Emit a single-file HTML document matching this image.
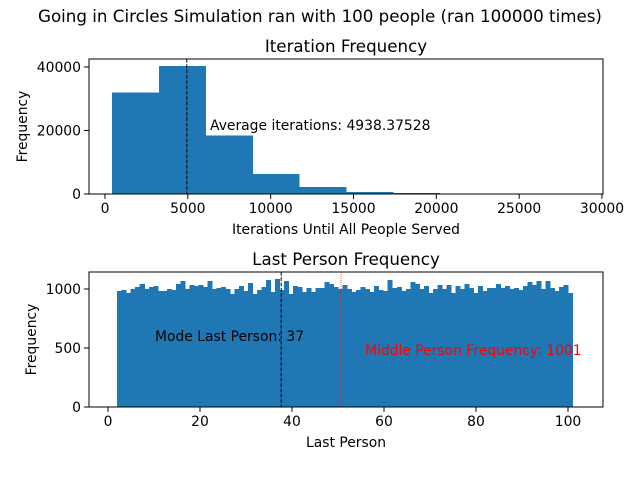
<!DOCTYPE html>
<html><head><meta charset="utf-8"><style>
body{margin:0;background:#fff;font-family:"Liberation Sans","DejaVu Sans",sans-serif}
</style></head><body>
<svg id="c" width="640" height="480" xmlns="http://www.w3.org/2000/svg" font-family="DejaVu Sans, Liberation Sans, sans-serif">
<rect width="640" height="480" fill="#fff"/>
<text x="320" y="22" font-size="16.7" text-anchor="middle">Going in Circles Simulation ran with 100 people (ran 100000 times)</text>
<g id="top"></g><g id="bot"></g>
</svg>
<script>
const iterBinStart = 422, iterBinWidth = 2825;
const iterCounts = [32000, 40300, 18400, 6300, 2200, 700, 250, 80, 20, 5];
const iterXTicks = [0, 5000, 10000, 15000, 20000, 25000, 30000];
const iterYTicks = [0, 20000, 40000];
const iterMean = 4938.37528;
const personMin = 2, personMax = 101;
const personCounts = [983,992,966,1000,1017,1043,1000,1017,1026,983,983,1000,992,1043,1068,1000,1034,1026,1034,1017,1068,1000,1009,1017,1000,958,1000,1026,983,1051,958,992,1017,1077,975,1085,992,1068,958,1026,1017,975,1009,975,1009,1009,1060,1043,1017,
1000,1034,1000,975,992,1017,1000,975,1026,992,983,1077,1009,1017,983,1000,1060,1043,1000,1026,966,1000,1034,1000,1034,966,1026,1000,1043,1009,966,1026,983,1009,1009,1043,1009,1026,1000,1009,992,1026,1060,1034,1068,1000,1068,1009,983,1017,1034,966];
const personXTicks = [0, 20, 40, 60, 80, 100];
const personYTicks = [0, 500, 1000];
const modePerson = 37, middlePerson = 50;

const NS = "http://www.w3.org/2000/svg";
function el(parent, tag, attrs, text) {
  const e = document.createElementNS(NS, tag);
  for (const k in attrs) e.setAttribute(k, attrs[k]);
  if (text !== undefined) e.textContent = text;
  parent.appendChild(e); return e;
}
function axes(g, L, T, R, B, xs, ys, xt, yt, title, xl, yl, nm, ylx) {
  for (const t of xt) {
    const x = xs(t);
    const l = el(g, "line", {x1:x, x2:x, y1:B, y2:B+4.9, stroke:"#000"});
    
    
    const tx = el(g, "text", {x:x, y:B+19, "font-size":13.9, "text-anchor":"middle"}, t);
    
    
  }
  for (const t of yt) {
    const y = ys(t);
    const l = el(g, "line", {x1:L-4.9, x2:L, y1:y, y2:y, stroke:"#000"});
    
    
    const tx = el(g, "text", {x:L-8, y:y+5, "font-size":13.9, "text-anchor":"end"}, t);
    
    
  }
  const r = el(g, "rect", {x:L, y:T, width:R-L, height:B-T, fill:"none", stroke:"#000", "stroke-width":1});
  
  
  const ti = el(g, "text", {x:(L+R)/2, y:T-7, "font-size":16.7, "text-anchor":"middle"}, title);
  
  
  const xlab = el(g, "text", {x:(L+R)/2, y:B+40, "font-size":13.9, "text-anchor":"middle"}, xl);
  
  
  const yy = (T+B)/2;
  const ylab = el(g, "text", {x:ylx, y:yy, "font-size":13.9, "text-anchor":"middle", transform:`rotate(-90 ${ylx} ${yy})`}, yl);
  
  
}
// top
{
  const g = document.getElementById("top");
  const L=89,R=603,T=59,B=194;
  const xs = v => 105 + v*(602-105)/30000;
  const ys = v => 194 - v*(194-67)/40000;
  iterCounts.forEach((c,i) => {
    const x0 = xs(iterBinStart + i*iterBinWidth), x1 = xs(iterBinStart + (i+1)*iterBinWidth);
    const r = el(g, "rect", {x:x0, y:ys(c), width:x1-x0+0.5, height:B-ys(c), fill:"#1f77b4", "shape-rendering":"crispEdges"});
    
    
  });
  const ml = el(g, "line", {x1:xs(iterMean), x2:xs(iterMean), y1:T, y2:B, stroke:"#000", "stroke-dasharray":"3.7,1.6", "stroke-width":1});
  
  
  const at = el(g, "text", {x:210, y:130, "font-size":13.9}, "Average iterations: " + iterMean.toFixed(5));
  
  
  axes(g,L,T,R,B,xs,ys,iterXTicks,iterYTicks,"Iteration Frequency","Iterations Until All People Served","Frequency","top",27);
}
// bottom
{
  const g = document.getElementById("bot");
  const L=89,R=603,T=272,B=407;
  const xs = v => 108 + v*(568-108)/100;
  const ys = v => 407 - v*(407-289)/1000;
  const w = (personMax - personMin) / personCounts.length;
  personCounts.forEach((c,i) => {
    const x0 = xs(personMin + i*w), x1 = xs(personMin + (i+1)*w);
    const r = el(g, "rect", {x:x0, y:ys(c), width:x1-x0+0.5, height:B-ys(c), fill:"#1f77b4", "shape-rendering":"crispEdges"});
    
    
  });
  const ml = el(g, "line", {x1:xs(modePerson)+3, x2:xs(modePerson)+3, y1:T, y2:B, stroke:"#000", "stroke-dasharray":"3.7,1.6"});
  
  
  const mid = el(g, "line", {x1:xs(middlePerson)+3, x2:xs(middlePerson)+3, y1:T, y2:B, stroke:"#d62728", "stroke-dasharray":"1,1", "stroke-width":0.7});
  
  
  const mt = el(g, "text", {x:155, y:341, "font-size":13.9}, "Mode Last Person: " + modePerson);
  
  
  const rt = el(g, "text", {x:365, y:355, "font-size":13.9, fill:"red"}, "Middle Person Frequency: 1001");
  
  
  axes(g,L,T,R,B,xs,ys,personXTicks,personYTicks,"Last Person Frequency","Last Person","Frequency","bottom",36);
}
</script>
</body></html>
